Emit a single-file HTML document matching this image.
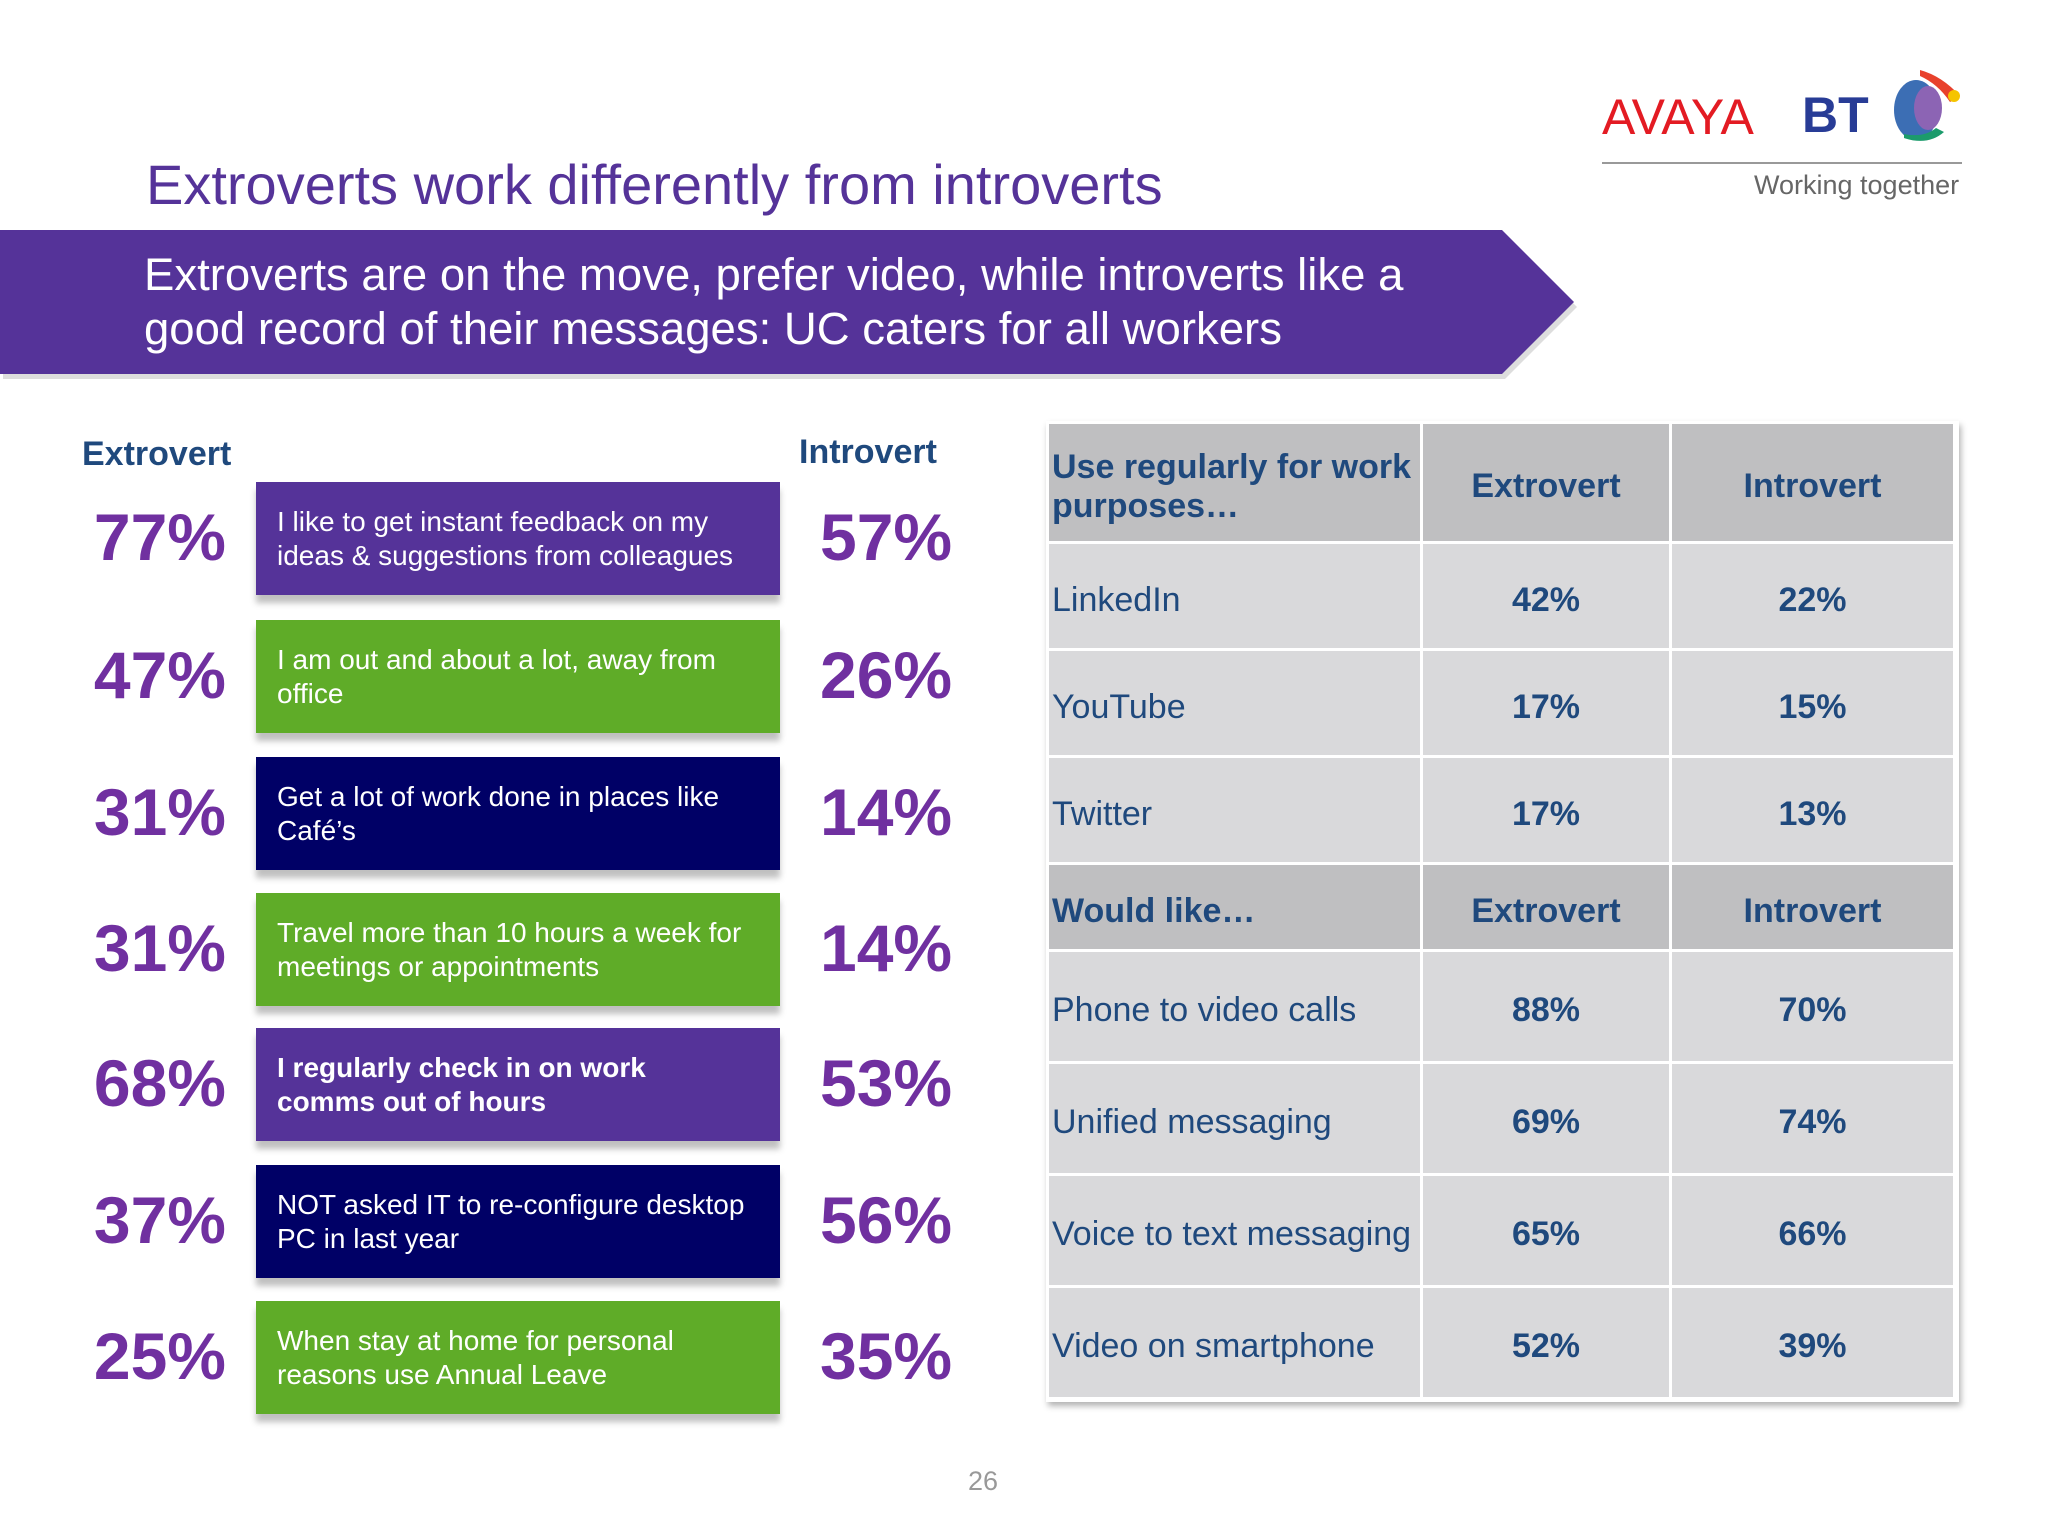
<!DOCTYPE html>
<html><head><meta charset="utf-8">
<style>
body{margin:0;width:2048px;height:1536px;background:#fff;position:relative;overflow:hidden;font-family:"Liberation Sans",sans-serif;}
.a{position:absolute;}
.box{position:absolute;left:256px;width:524px;height:113px;box-shadow:0 8px 6px rgba(0,0,0,0.25);color:#fff;font-size:28px;line-height:34px;box-sizing:border-box;padding-left:21px;display:flex;flex-direction:column;justify-content:center;}
.pl{position:absolute;width:200px;text-align:right;left:26px;font-size:66px;font-weight:bold;color:#7030a0;line-height:115px;}
.pr{position:absolute;left:820px;font-size:66px;font-weight:bold;color:#7030a0;line-height:115px;}
.cell{position:absolute;box-sizing:border-box;color:#1f497d;font-size:34px;display:flex;align-items:center;padding-top:8px;}
</style></head><body>
<div class="a" style="left:146px;top:152px;font-size:56px;color:#553399;">Extroverts work differently from introverts</div>
<svg class="a" style="left:0;top:228px" width="1600" height="160"><polygon points="0,2 1502,2 1574,74 1502,146 0,146" fill="#ddd" transform="translate(3,5)"/><polygon points="0,2 1502,2 1574,74 1502,146 0,146" fill="#553399"/></svg>
<div class="a" style="left:144px;top:248px;font-size:45.5px;line-height:54px;color:#fff;">Extroverts are on the move, prefer video, while introverts like a<br>good record of their messages: UC caters for all workers</div>
<div class="a" style="left:1602px;top:88px;font-size:50px;color:#e31b23;">AVAYA</div>
<div class="a" style="left:1802px;top:86px;font-size:50px;font-weight:bold;color:#283c96;">BT</div>
<svg class="a" style="left:1880px;top:66px" width="84" height="80"><ellipse cx="36" cy="44" rx="22" ry="30" fill="#3c6eb4"/><ellipse cx="48" cy="42" rx="14" ry="22" fill="#8c64b4"/><path d="M40 4 Q62 10 80 30 L70 36 Q58 18 40 10Z" fill="#e8412c"/><circle cx="74" cy="30" r="6" fill="#f5c400"/><path d="M24 72 Q48 80 64 66 L56 62 Q44 72 24 68Z" fill="#1c9b6c"/></svg>
<div class="a" style="left:1602px;top:162px;width:360px;height:2px;background:#999;"></div>
<div class="a" style="left:1754px;top:170px;font-size:27px;color:#666;">Working together</div>
<div class="a" style="left:82px;top:435px;font-size:34px;font-weight:bold;color:#1f497d;">Extrovert</div>
<div class="a" style="left:799px;top:433px;font-size:34px;font-weight:bold;color:#1f497d;">Introvert</div>
<div id="left"></div>
<div id="tbl"></div>
<div class="a" style="left:968px;top:1466px;font-size:27px;color:#999;">26</div>
<script>
const statements=["I like to get instant feedback on my<br>ideas &amp; suggestions from colleagues","I am out and about a lot, away from<br>office","Get a lot of work done in places like<br>Café’s","Travel more than 10 hours a week for<br>meetings or appointments","<b>I regularly check in on work<br>comms out of hours</b>","NOT asked IT to re-configure desktop<br>PC in last year","When stay at home for personal<br>reasons use Annual Leave"];
const extrovertPct=[77,47,31,31,68,37,25];
const introvertPct=[57,26,14,14,53,56,35];
const boxColors=["#553399","#5fac28","#000066","#5fac28","#553399","#000066","#5fac28"];
const useLabels=["LinkedIn","YouTube","Twitter"];
const useExt=[42,17,17];
const useInt=[22,15,13];
const likeLabels=["Phone to video calls","Unified messaging","Voice to text messaging","Video on smartphone"];
const likeExt=[88,69,65,52];
const likeInt=[70,74,66,39];

const L=document.getElementById('left');
const tops=[482,620,757,893,1028,1165,1301];
statements.forEach((s,i)=>{
  const b=document.createElement('div');b.className='box';
  
  
  b.style.top=tops[i]+'px';b.style.background=boxColors[i];b.innerHTML='<div>'+s+'</div>';L.appendChild(b);
  const l=document.createElement('div');l.className='pl';
  
  
  l.style.top=(tops[i]-2)+'px';l.textContent=extrovertPct[i]+'%';L.appendChild(l);
  const r=document.createElement('div');r.className='pr';
  
  
  r.style.top=(tops[i]-2)+'px';r.textContent=introvertPct[i]+'%';L.appendChild(r);
});

const T=document.getElementById('tbl');
const cx=[1049,1423,1672,1956];
const bg=document.createElement('div');bg.className='a';


bg.style.cssText='left:1046px;top:421px;width:913px;height:981px;background:#fff;box-shadow:2px 4px 6px rgba(0,0,0,0.3);';T.appendChild(bg);
function row(y,h,cells,header){
  cells.forEach((c,j)=>{
    const d=document.createElement('div');d.className='cell';
    
    
    d.style.left=cx[j]+'px';d.style.top=y+'px';d.style.width=(cx[j+1]-cx[j]-3)+'px';d.style.height=(h-3)+'px';
    d.style.background=header?'#bfbfc1':'#d9d9db';
    if(j>0){d.style.justifyContent='center';d.style.fontWeight='bold';}
    else{d.style.paddingLeft='3px';if(header)d.style.fontWeight='bold';}
    d.innerHTML=c;T.appendChild(d);
  });
}
row(424,120,["Use regularly for work<br>purposes…","Extrovert","Introvert"],true);
const uy=[544,651,758];
useLabels.forEach((n,i)=>row(uy[i],107,[n,useExt[i]+'%',useInt[i]+'%'],false));
row(865,87,["Would like…","Extrovert","Introvert"],true);
const ly=[952,1064,1176,1288];
likeLabels.forEach((n,i)=>row(ly[i],112,[n,likeExt[i]+'%',likeInt[i]+'%'],false));
</script>
</body></html>
